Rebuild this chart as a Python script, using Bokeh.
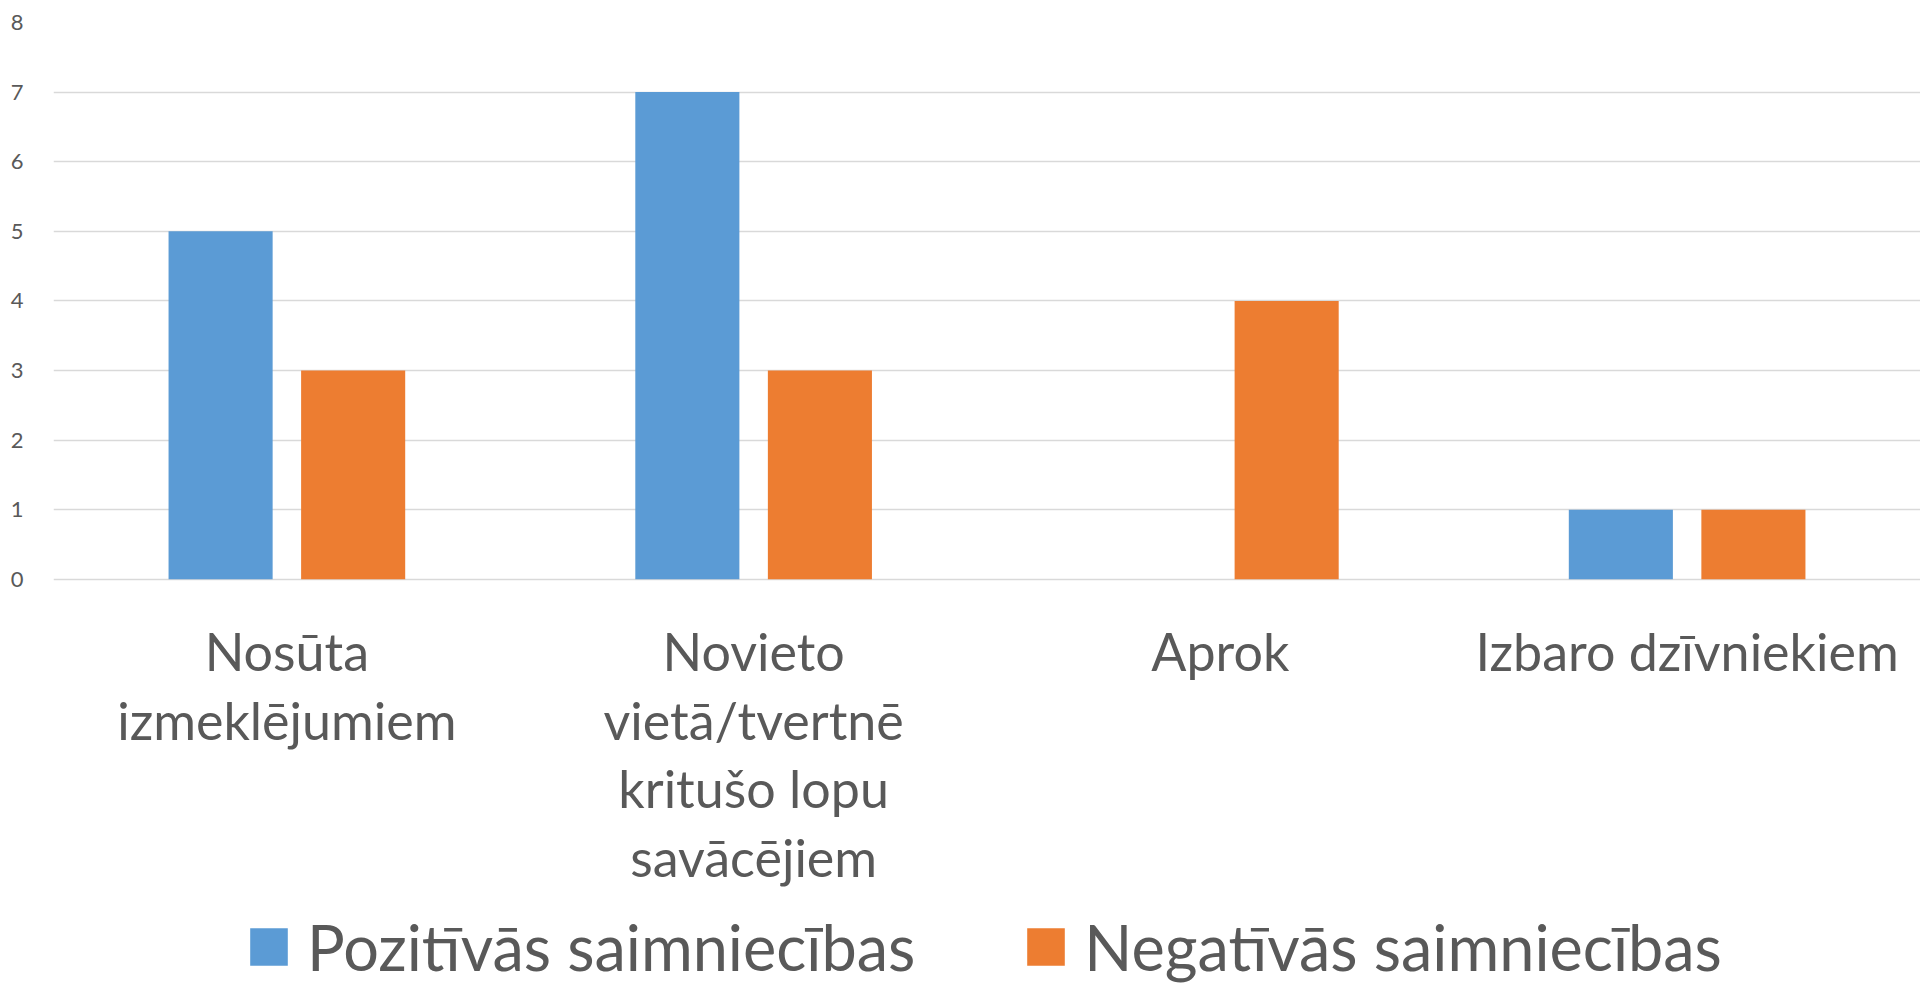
from bokeh.plotting import figure
from bokeh.models import FactorRange, Legend, LegendItem, Range1d, FixedTicker, ColumnDataSource
from bokeh.core.properties import value
from bokeh.transform import dodge
from bokeh.embed import file_html
from bokeh.resources import INLINE

categories = ["Nosūta izmeklējumiem", "Novieto vietā/tvertnē kritušo lopu savācējiem", "Aprok", "Izbaro dzīvniekiem"]
label_lines = [["Nosūta", "izmeklējumiem"],
               ["Novieto", "vietā/tvertnē", "kritušo lopu", "savācējiem"],
               ["Aprok"],
               ["Izbaro dzīvniekiem"]]
positive = [5, 7, 0, 1]
negative = [3, 3, 4, 1]
series_names = ["Pozitīvās saimniecības", "Negatīvās saimniecības"]
y_ticks = [0, 1, 2, 3, 4, 5, 6, 7, 8]

FONT = "Lato"
TEXT = "#595959"
BLUE = "#5B9BD5"
ORANGE = "#ED7D31"

PX_PER_UNIT = 69.6
TOP_BORDER = 22
LEFT_BORDER = 53
FIG_W = 1920
FIG_H = 984
y_min = 8 - (FIG_H - TOP_BORDER) / PX_PER_UNIT

src = ColumnDataSource(dict(cat=categories, pos=positive, neg=negative))

p = figure(x_range=FactorRange(*categories, range_padding=0), y_range=Range1d(y_min, 8),
           width=FIG_W, height=FIG_H, output_backend="svg", toolbar_location=None,
           min_border_left=LEFT_BORDER, min_border_right=0, min_border_top=TOP_BORDER, min_border_bottom=0)
p.outline_line_color = None
p.background_fill_color = "white"
p.border_fill_color = "white"

r1 = p.vbar(x=dodge("cat", -0.142, range=p.x_range), top="pos", width=0.223, source=src,
            fill_color=BLUE, line_color=None)
r2 = p.vbar(x=dodge("cat", 0.142, range=p.x_range), top="neg", width=0.223, source=src,
            fill_color=ORANGE, line_color=None)

# category labels (multi-line) drawn below the zero line
lx, ly, lt, loff = [], [], [], []
for cat, lines in zip(categories, label_lines):
    for i, line in enumerate(lines):
        lx.append(cat)
        ly.append(0)
        lt.append(line)
        loff.append(72 + 68.5 * i)
p.text(x=lx, y=ly, text=lt, y_offset=loff, text_align="center", text_baseline="alphabetic",
       text_font=value(FONT), text_font_size="52px", text_color=TEXT)

p.xgrid.grid_line_color = None
p.ygrid.grid_line_color = "#D9D9D9"
p.ygrid.grid_line_width = 1.5
p.ygrid.bounds = (0, 8)
p.xaxis.visible = False
p.yaxis.ticker = FixedTicker(ticks=y_ticks)
p.yaxis.axis_line_color = None
p.yaxis.major_tick_line_color = None
p.yaxis.minor_tick_line_color = None
p.yaxis.major_label_text_font = FONT
p.yaxis.major_label_text_font_size = "22px"
p.yaxis.major_label_text_color = TEXT
p.yaxis.major_label_standoff = 24

legend = Legend(items=[LegendItem(label=series_names[0], renderers=[r1]),
                       LegendItem(label=series_names[1], renderers=[r2])],
                orientation="horizontal", location=(192, 0),
                label_text_font=FONT, label_text_font_size="63px", label_text_color=TEXT,
                glyph_width=47, glyph_height=47, label_standoff=15, spacing=107,
                border_line_color=None, background_fill_alpha=0, padding=0, margin=0)
p.add_layout(legend, "center")

open("out.html", "w").write(file_html(p, INLINE))
